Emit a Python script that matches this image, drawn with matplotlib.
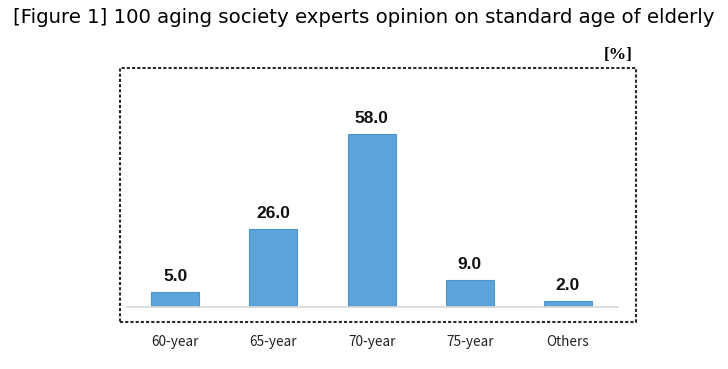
import matplotlib.pyplot as plt
from matplotlib.patches import Rectangle

categories = ['60-year', '65-year', '70-year', '75-year', 'Others']
values = [5.0, 26.0, 58.0, 9.0, 2.0]

fig = plt.figure(figsize=(7.28, 3.69), dpi=100)

# title on top
fig.text(0.5, 0.952, '[Figure 1] 100 aging society experts opinion on standard age of elderly',
         ha='center', va='center', fontsize=14.2, family='DejaVu Sans')
fig.text(0.849, 0.851, '[%]', ha='center', va='center', fontsize=12.5,
         fontweight='bold', family='Liberation Serif')

# dotted frame round the chart
box = Rectangle((0.165, 0.127), 0.709, 0.688, transform=fig.transFigure,
                fill=False, edgecolor='#2a2a2a', linewidth=1.5, linestyle=(0, (1.5, 1)))
fig.patches.append(box)

ax = fig.add_axes([0.1745, 0.168, 0.6745, 0.615])
x = range(len(categories))
bars = ax.bar(x, values, width=0.49, color='#5BA3D9', edgecolor='#4A95D0', linewidth=0.8)
for i, v in enumerate(values):
    ax.text(i, v + 5.2, '%.1f' % v, ha='center', va='center', fontsize=12.5,
            fontweight='bold', family='Liberation Sans', color='#111111')

ax.set_xlim(-0.49, 4.51)
ax.set_ylim(0, 76)
for s in ['top', 'right', 'left']:
    ax.spines[s].set_visible(False)
ax.spines['bottom'].set_color('#D9D9D9')
ax.spines['bottom'].set_linewidth(1.2)
ax.set_yticks([])
ax.set_xticks(list(x))
ax.set_xticklabels(categories, fontsize=9.8, family=['Noto Sans CJK KR', 'DejaVu Sans'], color='#222222')
ax.tick_params(axis='x', length=0, pad=20)

fig.savefig('out.png', dpi=100)
